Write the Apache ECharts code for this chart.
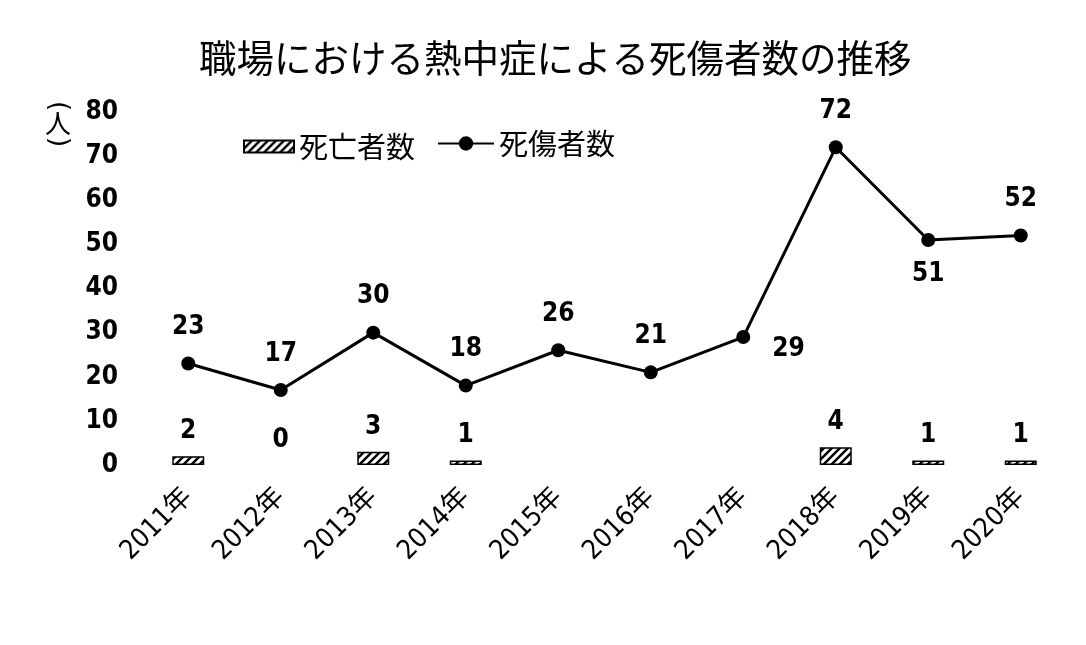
<!DOCTYPE html>
<html><head><meta charset="utf-8">
<script src="https://cdn.jsdelivr.net/npm/echarts@6/dist/echarts.min.js"></script>
<style>html,body{margin:0;padding:0;background:#fff}#c{width:1086px;height:645px}</style>
</head><body><div id="c"></div>
<script>
const title = '職場における熱中症による死傷者数の推移';
const categories = ['2011年','2012年','2013年','2014年','2015年','2016年','2017年','2018年','2019年','2020年'];
const deaths = [2, 0, 3, 1, null, null, null, 4, 1, 1];
const casualties = [23, 17, 30, 18, 26, 21, 29, 72, 51, 52];
const yTicks = [0, 10, 20, 30, 40, 50, 60, 70, 80];
const unitParts = ['(', '人', ')'];

const numFont = '"Liberation Sans Narrow","DejaVu Sans Condensed","Noto Sans CJK JP",sans-serif';
const jpFont = '"Noto Sans CJK JP",sans-serif';

function hatch() {
  const c = document.createElement('canvas');
  c.width = 8; c.height = 8;
  const g = c.getContext('2d');
  g.fillStyle = '#fff'; g.fillRect(0,0,8,8);
  g.strokeStyle = '#000'; g.lineWidth = 2.4;
  g.beginPath();
  g.moveTo(-2,10); g.lineTo(10,-2);
  g.moveTo(-6,6); g.lineTo(6,-6);
  g.moveTo(2,14); g.lineTo(14,2);
  g.stroke();
  return c;
}
const hatchFill = { image: hatch(), repeat: 'repeat' };

const chart = echarts.init(document.getElementById('c'));
const lineLabel = i => {
  if (i === 6) return { position: 'right', distance: 22, offset: [0, 12] };
  if (i === 8) return { position: 'bottom', distance: 14 };
  return { position: 'top', distance: 16 };
};
const legendText = { fontFamily: jpFont, fontSize: 29, color: '#000', padding: [0, 0, 0, 0] };
chart.setOption({
  backgroundColor: '#fff',
  animation: false,
  title: { text: title, left: 194, top: 34,
    textStyle: { fontFamily: jpFont, fontSize: 37.5, fontWeight: 'normal', color: '#000' } },
  legend: [
    { left: 238, top: 127, itemWidth: 50, itemHeight: 12, textStyle: legendText,
      data: [{ name: '死亡者数', icon: 'rect' }] },
    { left: 432, top: 124, itemWidth: 56, itemHeight: 18, textStyle: legendText,
      data: [{ name: '死傷者数' }] }
  ],
  grid: { left: 142, right: 19, top: 112, bottom: 180 },
  graphic: [
    { type: 'text', x: 58, y: 106, rotation: -Math.PI / 2,
      style: { text: unitParts[0], font: '26px "DejaVu Sans"', fill: '#000', align: 'center', verticalAlign: 'middle' } },
    { type: 'text', x: 58, y: 123,
      style: { text: unitParts[1], font: '26px "Noto Sans CJK JP"', fill: '#000', align: 'center', verticalAlign: 'middle' } },
    { type: 'text', x: 58, y: 142, rotation: -Math.PI / 2,
      style: { text: unitParts[2], font: '26px "DejaVu Sans"', fill: '#000', align: 'center', verticalAlign: 'middle' } }
  ],
  xAxis: {
    type: 'category', data: categories,
    axisLine: { show: false }, axisTick: { show: false },
    axisLabel: { rotate: 45, fontFamily: numFont, fontSize: 27, color: '#000', margin: 28, interval: 0 }
  },
  yAxis: {
    type: 'value', min: 0, max: 80, interval: 10,
    axisLine: { show: false }, axisTick: { show: false }, splitLine: { show: false },
    axisLabel: { fontFamily: numFont, fontSize: 26, fontWeight: 'bold', color: '#000', margin: 24,
      formatter: v => yTicks.includes(v) ? String(v) : '' }
  },
  series: [
    {
      name: '死亡者数', type: 'bar', barWidth: 32,
      data: deaths.map(v => v === 0 ? { value: 0, itemStyle: { borderWidth: 0, color: 'rgba(0,0,0,0)' } } : v),
      itemStyle: { color: hatchFill, borderColor: '#000', borderWidth: 1.5 },
      label: { show: true, position: 'top', distance: 12, fontFamily: numFont, fontSize: 26, fontWeight: 'bold', color: '#000' }
    },
    {
      name: '死傷者数', type: 'line',
      data: casualties.map((v, i) => ({ value: v, label: lineLabel(i) })),
      symbol: 'circle', symbolSize: 14,
      lineStyle: { color: '#000', width: 3 }, itemStyle: { color: '#000' },
      label: { show: true, fontFamily: numFont, fontSize: 26, fontWeight: 'bold', color: '#000' }
    }
  ]
});
</script></body></html>
